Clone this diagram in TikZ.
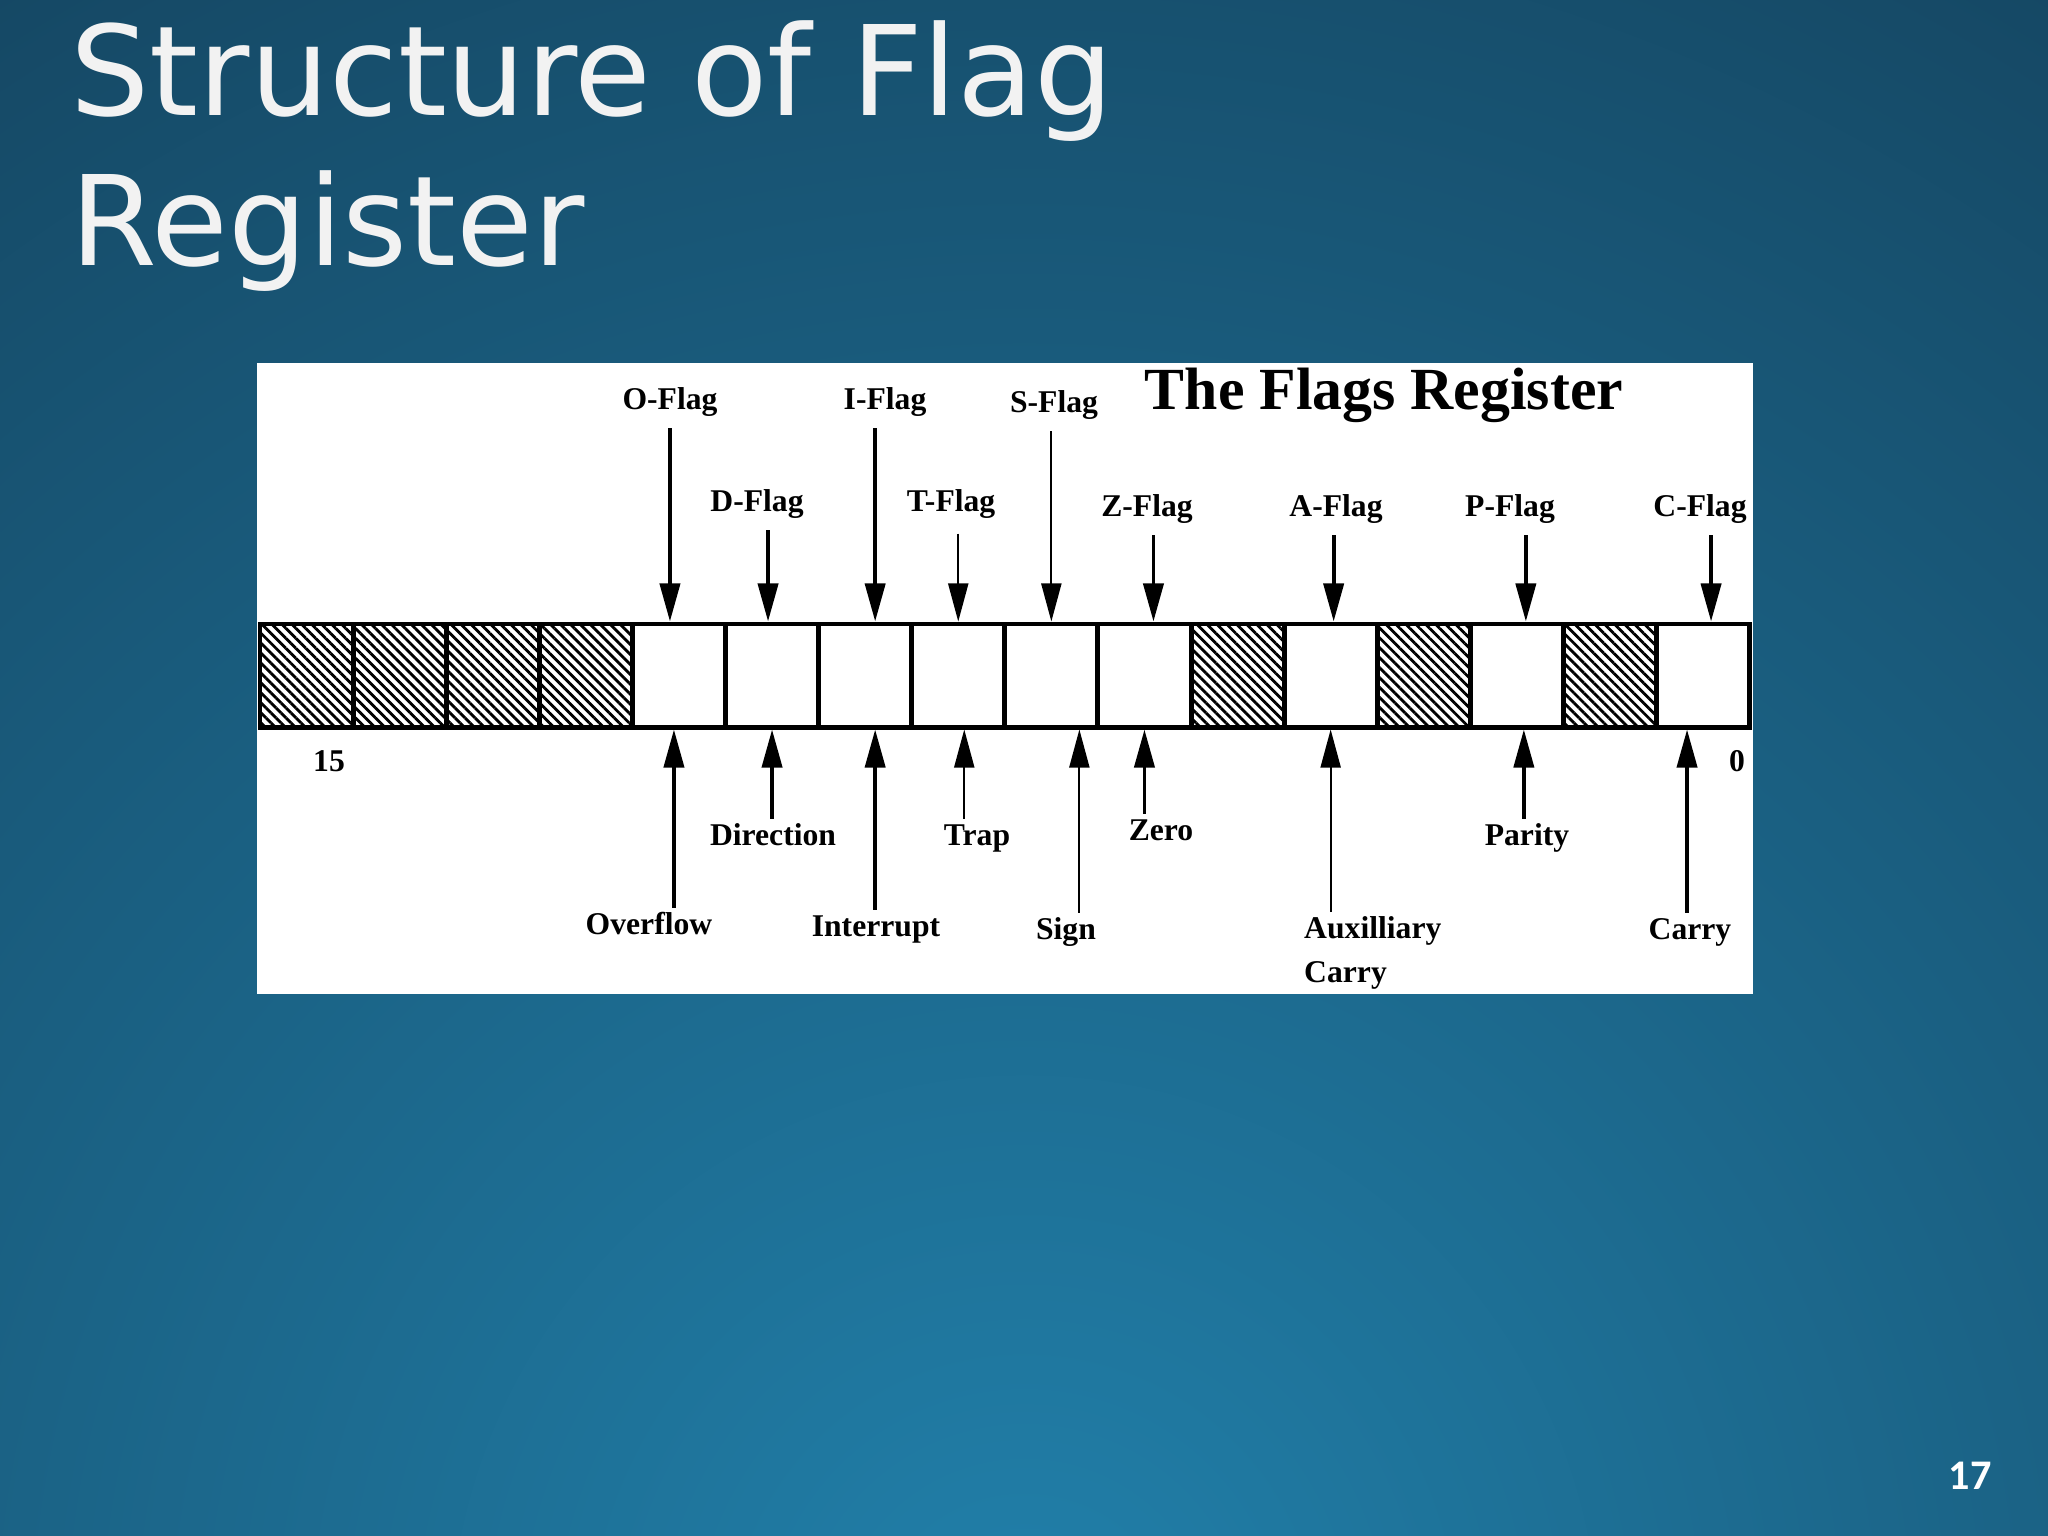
\documentclass[tikz,border=0pt]{standalone}
\usepackage{fontspec}
\setmainfont{Liberation Serif}
\newfontfamily\slidefont{DejaVu Sans}
\newfontfamily\numfont{Carlito}
\usepackage{tikz}
\usetikzlibrary{arrows.meta,patterns.meta,positioning}
\definecolor{slidein}{RGB}{33,128,170}
\definecolor{slideout}{RGB}{19,62,88}
\definecolor{slidetext}{RGB}{242,242,242}

\begin{document}
\begin{tikzpicture}[x=0.01cm,y=-0.01cm,
		regbox/.style={draw,line width=1.4pt,minimum width=0.931cm,minimum height=1.03cm,inner sep=0pt},
		spare/.style={pattern={Lines[angle=-45,distance=2pt,line width=0.8pt]}},
		used/.style={},
		lbl/.style={font=\bfseries\fontsize{9}{12.5}\selectfont,inner sep=1pt},
		lblfix/.style={lbl,text height=6.5pt,text depth=2pt},
		bigarrow/.style={-{Triangle[width=0.2cm,length=0.38cm]},line width=1.1pt},
		thinarrow/.style={-{Triangle[width=0.2cm,length=0.38cm]},line width=0.55pt}]
		\useasboundingbox (0,0) rectangle (2048,1536);
		\begin{scope}
			\clip (0,0) rectangle (2048,1536);
			\shade[inner color=slidein,outer color=slideout] (1024,1650) circle (2300);
		\end{scope}
		\node[anchor=north west,inner sep=0pt,align=left,text=slidetext,font=\slidefont\fontsize{35.5}{42.5}\selectfont] (slidetitle) at (70,20) {Structure of Flag\\Register};
		\node[text=white,font=\numfont\bfseries\fontsize{12}{14}\selectfont] (pageno) at (1970,1476) {17};
		\fill[white] (257,363) rectangle (1753,994);
		\node[font=\bfseries\fontsize{17}{20}\selectfont,anchor=base] (figtitle) at (1384,409) {The Flags Register};
		\foreach \b/\kind in {15/spare,14/spare,13/spare,12/spare,11/used,10/used,9/used,8/used,7/used,6/used,5/spare,4/used,3/spare,2/used,1/spare,0/used}
			\node[regbox,\kind] (bit\b) at ({260+93.1*(15.5-\b)},675.5) {};
		\node[lblfix] (hibit) at (329,764) {15};
		\node[lblfix] (lobit) at (1737,764) {0};
		\node[lblfix] (oflag) at (670,402) {O-Flag};
		\node[lblfix] (iflag) at (885,402) {I-Flag};
		\node[lblfix] (sflag) at (1054,405) {S-Flag};
		\node[lblfix] (dflag) at (757,504) {D-Flag};
		\node[lblfix] (tflag) at (951,504) {T-Flag};
		\node[lblfix] (zflag) at (1147,509) {Z-Flag};
		\node[lblfix] (aflag) at (1336,509) {A-Flag};
		\node[lblfix] (pflag) at (1510,509) {P-Flag};
		\node[lblfix] (cflag) at (1700,509) {C-Flag};
		\coordinate (ovtop) at ([xshift=-0.09cm]bit11.north);
		\coordinate (ditop) at ([xshift=-0.04cm]bit10.north);
		\coordinate (intop) at ([xshift=0.1cm]bit9.north);
		\coordinate (zetop) at ([xshift=0.09cm]bit6.north);
		\coordinate (autop) at ([xshift=0.03cm]bit4.north);
		\coordinate (patop) at ([xshift=0.09cm]bit2.north);
		\coordinate (catop) at ([xshift=0.08cm]bit0.north);
		\draw[bigarrow,shorten <=2pt] (ovtop |- oflag.south) -- (ovtop);
		\draw[bigarrow,shorten <=2pt] (ditop |- dflag.south) -- (ditop);
		\draw[bigarrow,shorten <=2pt] (intop |- iflag.south) -- (intop);
		\draw[thinarrow,shorten <=3pt] (bit8.north |- tflag.south) -- (bit8.north);
		\draw[thinarrow,shorten <=2pt] (bit7.north |- sflag.south) -- (bit7.north);
		\draw[bigarrow,shorten <=2pt] (zetop |- zflag.south) -- (zetop);
		\draw[bigarrow,shorten <=2pt] (autop |- aflag.south) -- (autop);
		\draw[bigarrow,shorten <=2pt] (patop |- pflag.south) -- (patop);
		\draw[bigarrow,shorten <=2pt] (catop |- cflag.south) -- (catop);
		\node[lblfix] (direction) at (773,838) {Direction};
		\node[lblfix] (trap) at (977,838) {Trap};
		\node[lblfix] (zero) at (1161,833) {Zero};
		\node[lblfix] (parity) at (1527,838) {Parity};
		\node[lblfix] (overflow) at (649,927) {Overflow};
		\node[lblfix] (interrupt) at (876,929) {Interrupt};
		\node[lblfix] (sign) at (1066,932) {Sign};
		\node[lbl,align=left,anchor=north west] (auxcarry) at (1300,912) {Auxilliary\\Carry};
		\node[lblfix] (carry) at (1690,932) {Carry};
		\coordinate (ovfx) at ([xshift=-0.05cm]bit11.south);
		\coordinate (intx) at ([xshift=0.1cm]bit9.south);
		\coordinate (trpx) at ([xshift=0.06cm]bit8.south);
		\coordinate (sgnx) at ([xshift=0.28cm]bit7.south);
		\coordinate (parx) at ([xshift=0.07cm]bit2.south);
		\coordinate (cryx) at ([xshift=-0.16cm]bit0.south);
		\draw[bigarrow] (ovfx |- overflow.north) -- (ovfx);
		\draw[bigarrow] (bit10.south |- direction.north) -- (bit10.south);
		\draw[bigarrow] (intx |- interrupt.north) -- (intx);
		\draw[thinarrow] (trpx |- trap.north) -- (trpx);
		\draw[thinarrow] (sgnx |- sign.north) -- (sgnx);
		\draw[bigarrow] (bit6.south |- zero.north) -- (bit6.south);
		\draw[thinarrow] (bit4.south |- auxcarry.north) -- (bit4.south);
		\draw[bigarrow] (parx |- parity.north) -- (parx);
		\draw[bigarrow] (cryx |- carry.north) -- (cryx);
	\end{tikzpicture}
\end{document}
